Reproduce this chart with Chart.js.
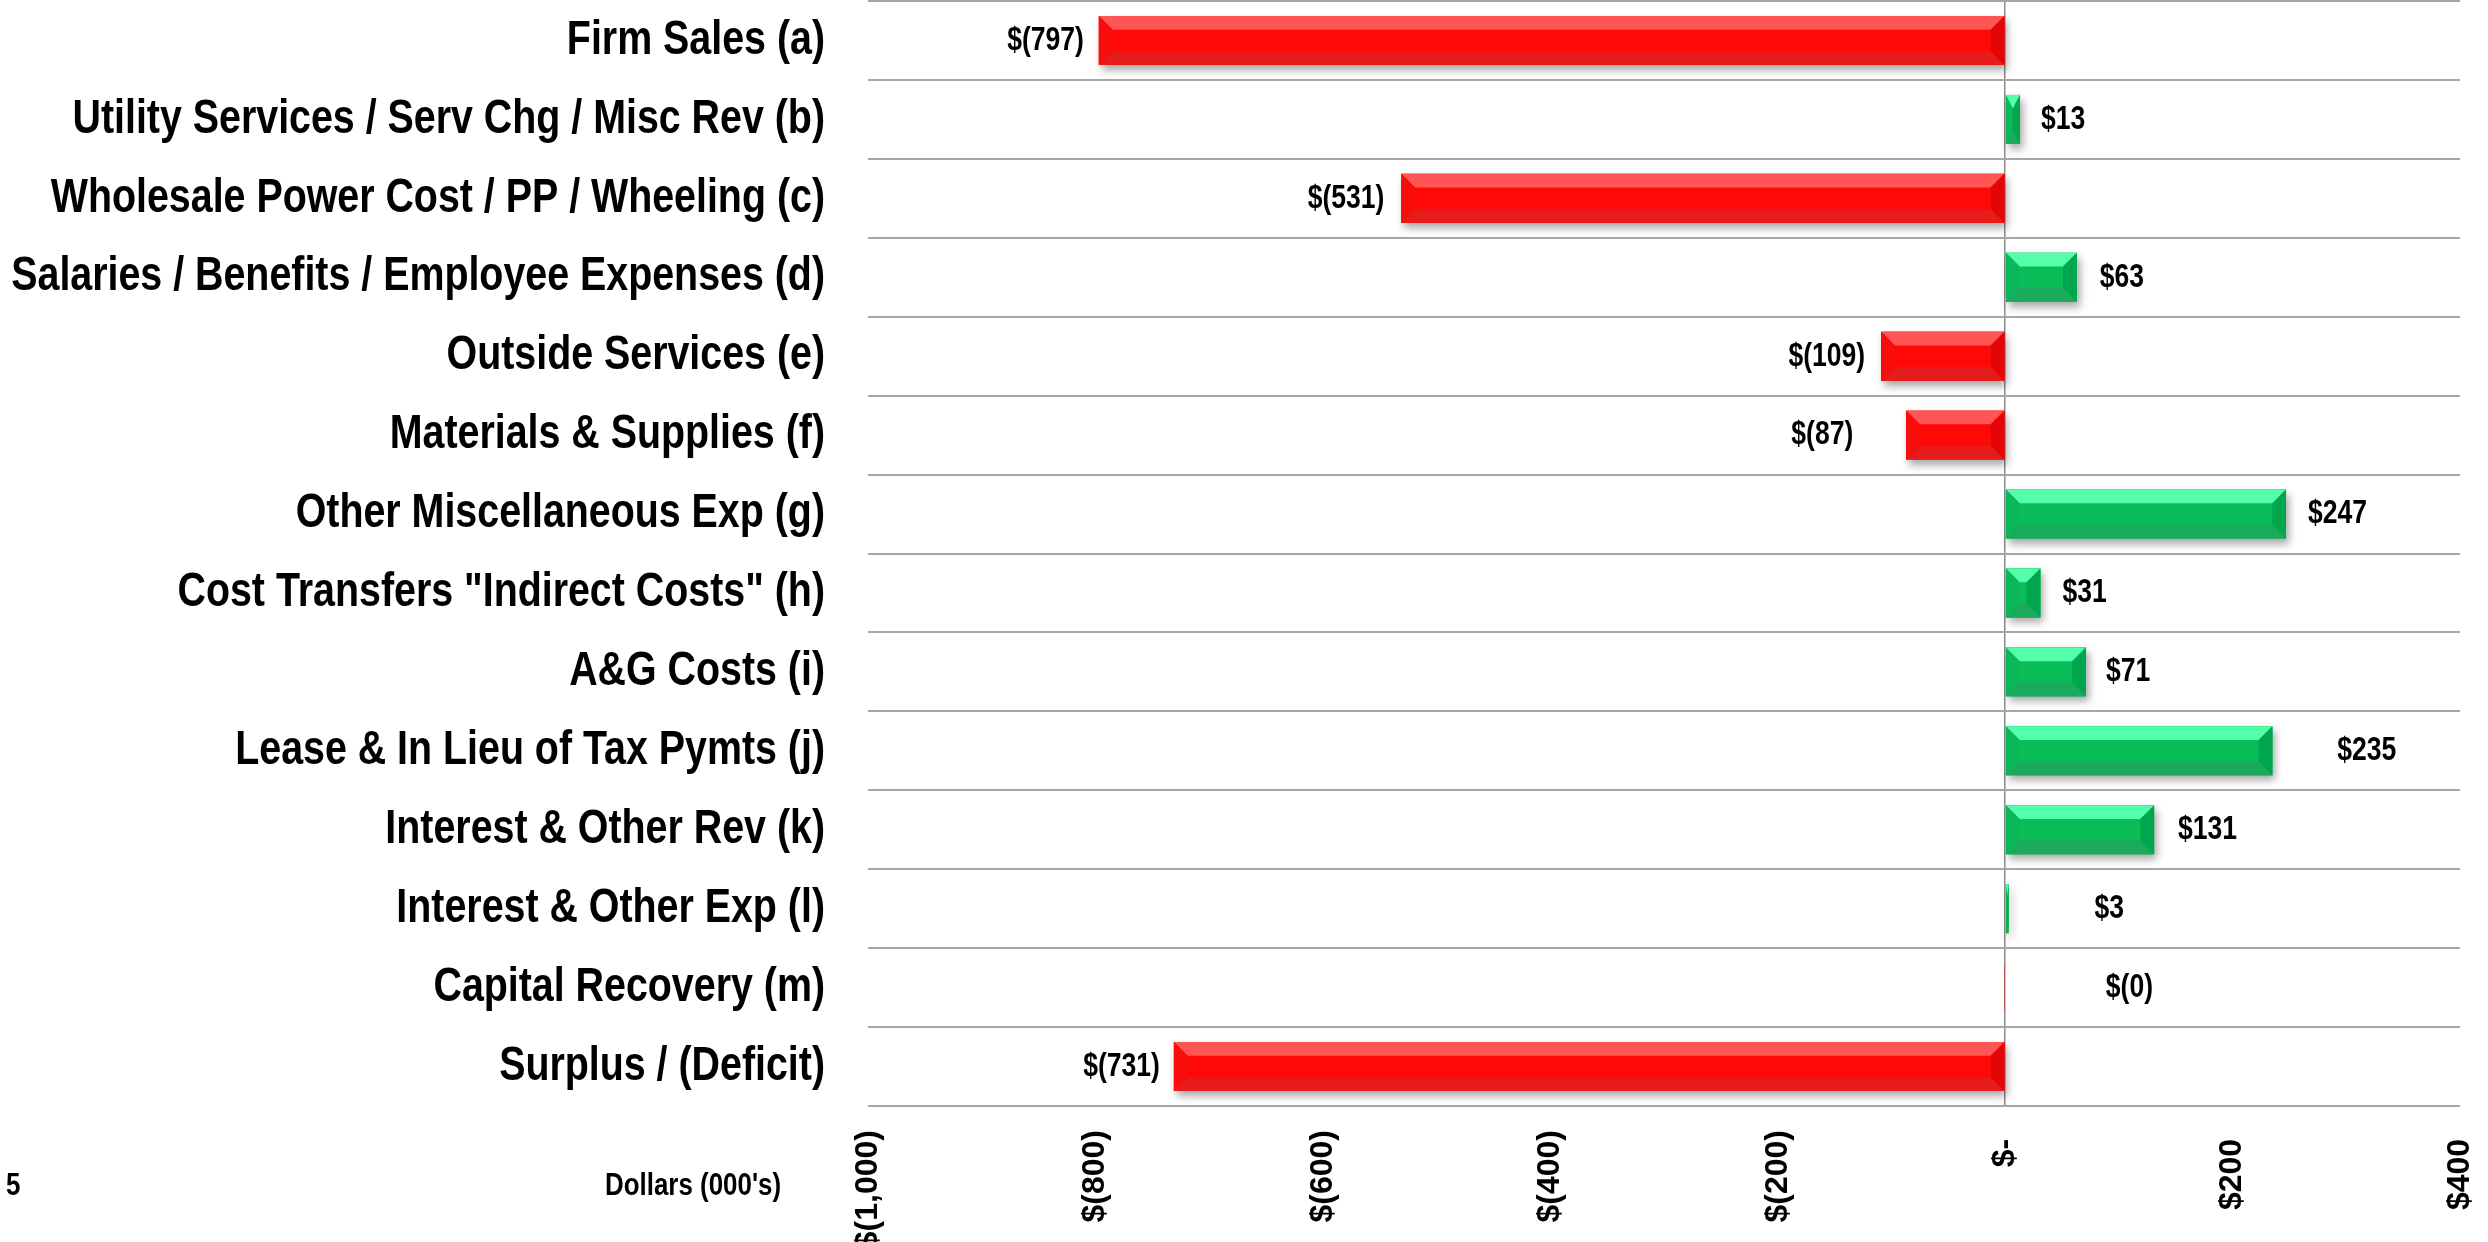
<!DOCTYPE html>
<html lang="en">
<head>
  <meta charset="UTF-8">
  <title>Variance by Category</title>
  <script src="https://cdn.jsdelivr.net/npm/chart.js"></script>
  <style>
    body {
      margin: 0;
      padding: 0;
      background: #ffffff;
    }
    .wrap {
      position: relative;
      width: 2488px;
      height: 1242px;
      overflow: hidden;
    }
    .note {
      position: absolute;
      font-family: "Liberation Sans", Arial, sans-serif;
      font-weight: bold;
      font-size: 32px;
      color: #000;
      line-height: 1;
      white-space: nowrap;
      transform: scaleX(0.81);
      transform-origin: left center;
    }
  </style>
</head>
<body>
  <div class="wrap">
    <canvas id="chart"></canvas>
    <div class="note" style="left:6px; top:1168px;">5</div>
    <div class="note" style="left:605px; top:1168px;">Dollars (000's)</div>
  </div>

  <script>
    // chart data
    const categories = [
      'Firm Sales (a)',
      'Utility Services / Serv Chg / Misc Rev (b)',
      'Wholesale Power Cost / PP / Wheeling (c)',
      'Salaries / Benefits / Employee Expenses (d)',
      'Outside Services (e)',
      'Materials & Supplies (f)',
      'Other Miscellaneous Exp (g)',
      'Cost Transfers "Indirect Costs" (h)',
      'A&G Costs (i)',
      'Lease & In Lieu of Tax Pymts (j)',
      'Interest & Other Rev (k)',
      'Interest & Other Exp (l)',
      'Capital Recovery (m)',
      'Surplus / (Deficit)'
    ];
    const values = [-797, 13, -531, 63, -109, -87, 247, 31, 71, 235, 131, 3, -0.3, -731];
    const axisMin = -1000;
    const axisMax = 400;
    const axisStep = 200;

    const sans = '"Liberation Sans", Arial, sans-serif';

    function money(v) {
      if (v === 0) return '$-';
      const s = Math.round(Math.abs(v)).toLocaleString('en-US');
      return v < 0 ? '$(' + s + ')' : '$' + s;
    }

    const palette = {
      neg: { mid: '#ff0808', top: '#ff5555', bottom: '#e61c1c', near: '#e40606', far: '#f80c0c' },
      pos: { mid: '#08bd58', top: '#55ffa9', bottom: '#1ba95c', near: '#0cb65a', far: '#00a64d' }
    };

    // condensed text: the narrow face is not installed, so squeeze the regular one
    function narrowText(c, text, x, y, align, size, squeeze) {
      c.save();
      c.font = 'bold ' + size + 'px ' + sans;
      c.textBaseline = 'middle';
      c.textAlign = align;
      c.translate(x, y);
      c.scale(squeeze, 1);
      c.fillText(text, 0, 0);
      c.restore();
    }

    // shadow under the bars, then bevel faces on top
    const bevelBars = {
      id: 'bevelBars',
      beforeDatasetsDraw(chart) {
        const c = chart.ctx;
        const meta = chart.getDatasetMeta(0);
        c.save();
        c.shadowColor = 'rgba(0,0,0,0.35)';
        c.shadowBlur = 8;
        c.shadowOffsetX = 3;
        c.shadowOffsetY = 5;
        meta.data.forEach((bar, i) => {
          const p = bar.getProps(['x', 'y', 'base', 'height'], true);
          const l = Math.min(p.x, p.base), r = Math.max(p.x, p.base);
          if (r - l < 1) return;
          c.fillStyle = values[i] < 0 ? palette.neg.mid : palette.pos.mid;
          c.fillRect(l, p.y - p.height / 2, r - l, p.height);
        });
        c.restore();
      },
      afterDatasetsDraw(chart) {
        const c = chart.ctx;
        const meta = chart.getDatasetMeta(0);
        c.save();
        meta.data.forEach((bar, i) => {
          const p = bar.getProps(['x', 'y', 'base', 'height'], true);
          const l = Math.min(p.x, p.base), r = Math.max(p.x, p.base);
          const w = r - l;
          if (w < 1) return;
          const t = p.y - p.height / 2, b = p.y + p.height / 2;
          const bv = p.height * 0.28;
          const bh = Math.min(p.height * 0.28, w / 2);
          const col = values[i] < 0 ? palette.neg : palette.pos;
          const leftCol = values[i] < 0 ? col.far : col.near;
          const rightCol = values[i] < 0 ? col.near : col.far;
          const poly = (pts, color) => {
            c.beginPath();
            c.moveTo(pts[0][0], pts[0][1]);
            for (let k = 1; k < pts.length; k++) c.lineTo(pts[k][0], pts[k][1]);
            c.closePath();
            c.fillStyle = color;
            c.fill();
          };
          poly([[l, t], [r, t], [r - bh, t + bv], [l + bh, t + bv]], col.top);
          poly([[l, b], [r, b], [r - bh, b - bv], [l + bh, b - bv]], col.bottom);
          poly([[l, t], [l + bh, t + bv], [l + bh, b - bv], [l, b]], leftCol);
          poly([[r, t], [r - bh, t + bv], [r - bh, b - bv], [r, b]], rightCol);
        });
        c.restore();
      }
    };

    // value labels beside the bar ends, and the category labels
    const textLayer = {
      id: 'textLayer',
      afterDraw(chart, args, opts) {
        const c = chart.ctx;
        c.fillStyle = '#000';
        const meta = chart.getDatasetMeta(0);
        meta.data.forEach((bar, i) => {
          const p = bar.getProps(['x', 'y'], true);
          const off = opts.labelOffset[i];
          narrowText(c, money(values[i]), p.x + off, p.y, off < 0 ? 'right' : 'left', 34, 0.78);
        });
        const ys = chart.scales.y;
        categories.forEach((name, i) => {
          narrowText(c, name, ys.right - 43, ys.getPixelForTick(i), 'right', 48, 0.82);
        });
      }
    };

    new Chart(document.getElementById('chart'), {
      type: 'bar',
      data: {
        labels: categories,
        datasets: [{
          data: values,
          backgroundColor: values.map(v => v < 0 ? palette.neg.mid : palette.pos.mid),
          borderWidth: 0,
          barPercentage: 0.62,
          categoryPercentage: 1
        }]
      },
      options: {
        indexAxis: 'y',
        responsive: true,
        maintainAspectRatio: false,
        animation: false,
        layout: { padding: { top: 1, right: 28, left: 0, bottom: 0 } },
        plugins: {
          legend: { display: false },
          tooltip: { enabled: false },
          textLayer: { labelOffset: [-15, 21, -17, 23, -16, -53, 22, 22, 20, 65, 24, 86, 101, -14] }
        },
        scales: {
          x: {
            min: axisMin,
            max: axisMax,
            afterFit: s => { s.height = 136; s.paddingLeft = 0; s.paddingRight = 0; },
            border: { display: false },
            grid: {
              drawTicks: false,
              color: ctx => ctx.tick && ctx.tick.value === 0 ? '#8c8c8c' : 'rgba(0,0,0,0)',
              lineWidth: 1.5
            },
            ticks: {
              stepSize: axisStep,
              autoSkip: false,
              minRotation: 90,
              maxRotation: 90,
              padding: 24,
              color: '#000',
              font: { family: sans, weight: 'bold', size: 32 },
              // accounting format keeps a trailing gap on non-negative numbers
              callback: v => v >= 0 ? money(v) + ' ' : money(v)
            }
          },
          y: {
            afterFit: s => { s.width = 868; s.paddingTop = 0; s.paddingBottom = 0; },
            border: { display: false },
            grid: {
              drawTicks: false,
              offset: true,
              color: '#a6a6a6',
              lineWidth: 2
            },
            ticks: { display: false }
          }
        }
      },
      plugins: [bevelBars, textLayer]
    });
  </script>
</body>
</html>
